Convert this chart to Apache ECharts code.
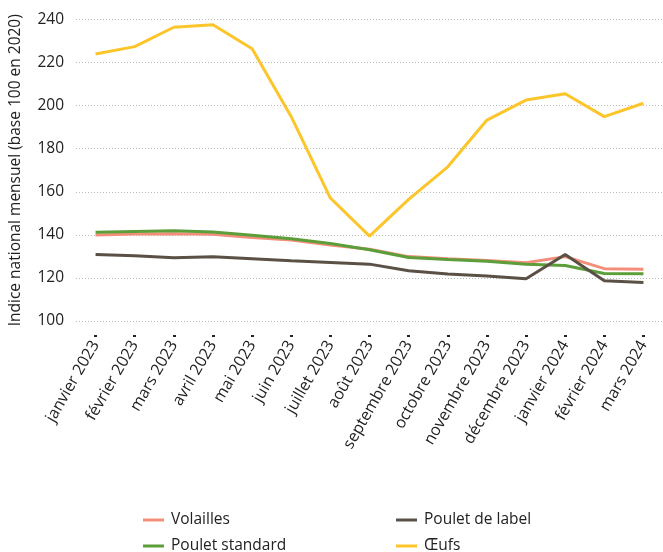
<!DOCTYPE html>
<html>
<head>
<meta charset="utf-8">
<script src="https://cdn.jsdelivr.net/npm/echarts@6/dist/echarts.min.js"></script>
<style>
  html, body { margin: 0; padding: 0; background: #fff; }
  #echart-box { width: 663px; height: 552px; }
</style>
</head>
<body>
<div id="echart-box"></div>
<script>
var months = ['janvier 2023', 'février 2023', 'mars 2023', 'avril 2023', 'mai 2023', 'juin 2023',
  'juillet 2023', 'août 2023', 'septembre 2023', 'octobre 2023', 'novembre 2023', 'décembre 2023',
  'janvier 2024', 'février 2024', 'mars 2024'];

var volailles = [139.9, 140.4, 140.5, 140.3, 138.8, 137.6, 135.3, 133.3, 129.9, 128.9, 128.1, 127.0, 129.9, 124.3, 124.0];
var pouletStandard = [141.2, 141.6, 141.9, 141.3, 139.8, 138.2, 136.0, 133.1, 129.5, 128.6, 127.8, 126.3, 125.8, 122.1, 121.9];
var pouletLabel = [130.9, 130.3, 129.4, 129.8, 128.9, 128.0, 127.2, 126.4, 123.3, 121.8, 120.9, 119.6, 130.9, 118.7, 117.9];
var oeufs = [224.0, 227.4, 236.4, 237.6, 226.4, 194.9, 157.1, 139.4, 156.5, 171.6, 193.3, 202.6, 205.5, 194.9, 201.1];

var yTicks = { min: 100, max: 240, step: 20 };

function init() {
  const element = document.getElementById('echart-box');
  const instance = echarts.init(element);
  var font = '"Open Sans", sans-serif';
  var textColor = '#222';

  function line(name, data, color) {
    return {
      name: name,
      type: 'line',
      data: data,
      symbol: 'none',
      lineStyle: { color: color, width: 3 },
      itemStyle: { color: color }
    };
  }

  var legendBase = {
    orient: 'vertical',
    icon: 'rect',
    padding: 0,
    height: 80,
    itemWidth: 21,
    itemHeight: 3,
    itemGap: 10,
    textStyle: { fontFamily: font, fontSize: 15.5, color: textColor, padding: [0, 0, 0, 2] }
  };

  var option = {
    animation: false,
    grid: { left: 74, right: -5, top: 19.5, bottom: 231 },
    legend: [
      Object.assign({}, legendBase, { left: 143, top: 512, data: ['Volailles', 'Poulet standard'] }),
      Object.assign({}, legendBase, { left: 396, top: 512, data: ['Poulet de label', 'Œufs'] })
    ],
    xAxis: {
      type: 'category',
      data: months,
      boundaryGap: true,
      offset: 14,
      axisLine: { show: false },
      axisTick: { show: true, alignWithLabel: true, length: 2, lineStyle: { color: '#222', width: 3 } },
      axisLabel: { rotate: 60, fontFamily: font, fontSize: 16, color: textColor, margin: 7, interval: 0 },
      splitLine: { show: false }
    },
    yAxis: {
      type: 'value',
      min: yTicks.min,
      max: yTicks.max,
      interval: yTicks.step,
      name: 'Indice national mensuel (base 100 en 2020)',
      nameLocation: 'middle',
      nameGap: 52,
      nameTextStyle: { fontFamily: font, fontSize: 15.5, color: textColor },
      axisLine: { show: false },
      axisTick: { show: false },
      axisLabel: { fontFamily: font, fontSize: 15.5, color: textColor, margin: 12 },
      splitLine: { lineStyle: { color: '#bbb', type: [1, 2], width: 1 } }
    },
    series: [
      line('Volailles', volailles, '#F28E79'),
      line('Poulet standard', pouletStandard, '#5C9E3A'),
      line('Poulet de label', pouletLabel, '#5B5045'),
      line('Œufs', oeufs, '#FCC52A')
    ]
  };
  instance.setOption(option);

  window.onresize = function () {
    instance.resize();
  };
}
init();
</script>
</body>
</html>
